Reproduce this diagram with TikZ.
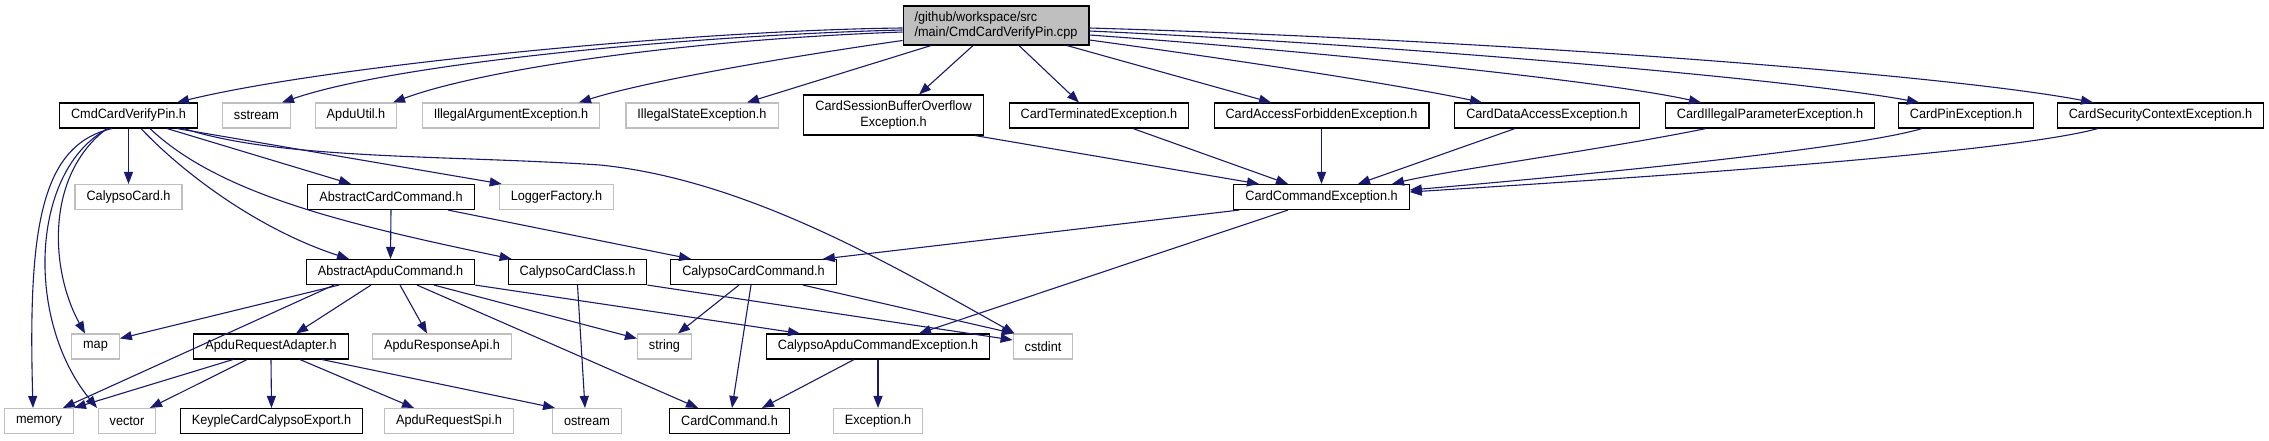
\documentclass[tikz,border=0pt]{standalone}
\usepackage{fontspec}
\setmainfont{Liberation Sans}[FakeStretch=0.94]
\usetikzlibrary{arrows.meta,calc}
\definecolor{navy}{HTML}{191970}
\definecolor{gborder}{HTML}{BFBFBF}
\definecolor{cppfill}{HTML}{BFBFBF}
\newcommand{\dxf}{\fontsize{13.5}{15.5}\selectfont}
\begin{document}
\begin{tikzpicture}[x=1pt,y=-1pt,
  nb/.style={rectangle, draw=black, line width=1.1pt, minimum height=25pt, inner xsep=11.5pt, inner ysep=0pt, font=\dxf, text=black},
  ng/.style={nb, draw=gborder},
  dep/.style={draw=navy, line width=1.1pt, -{Triangle[length=12pt,width=9pt]}}
]
\useasboundingbox[fill=white] (0,0) rectangle (2269,440);

% row 0
\node[nb, fill=cppfill, align=left, minimum height=39pt] (cpp) at (996,25.5) {/github/workspace/src\\/main/CmdCardVerifyPin.cpp};
% row 1
\node[nb] (cvph) at (128.5,115.5) {CmdCardVerifyPin.h};
\node[ng] (sstr) at (256.5,115.5) {sstream};
\node[ng] (autil) at (356,115.5) {ApduUtil.h};
\node[ng] (illarg) at (511,115.5) {IllegalArgumentException.h};
\node[ng] (illst) at (702,115.5) {IllegalStateException.h};
\node[nb, align=center, minimum height=40pt] (csbo) at (893.5,115) {CardSessionBufferOverflow\\Exception.h};
\node[nb] (cterm) at (1099,115.5) {CardTerminatedException.h};
\node[nb] (cacc) at (1321.5,115.5) {CardAccessForbiddenException.h};
\node[nb] (cdata) at (1547,115.5) {CardDataAccessException.h};
\node[nb] (cillp) at (1770,115.5) {CardIllegalParameterException.h};
\node[nb] (cpin) at (1966,115.5) {CardPinException.h};
\node[nb] (csec) at (2160.5,115.5) {CardSecurityContextException.h};
% row 2
\node[ng] (calcard) at (128.5,197) {CalypsoCard.h};
\node[nb] (acc) at (391,197) {AbstractCardCommand.h};
\node[ng] (logf) at (556.5,197) {LoggerFactory.h};
\node[nb] (cce) at (1321.5,197) {CardCommandException.h};
% row 3
\node[nb] (aac) at (390.5,272) {AbstractApduCommand.h};
\node[nb] (ccclass) at (577.5,272) {CalypsoCardClass.h};
\node[nb] (cccmd) at (753.5,272) {CalypsoCardCommand.h};
% row 4
\node[ng] (nmap) at (95.5,346.5) {map};
\node[nb] (ara) at (271,346.5) {ApduRequestAdapter.h};
\node[ng] (resp) at (442,346.5) {ApduResponseApi.h};
\node[ng] (nstr) at (664.5,346.5) {string};
\node[nb] (cace) at (878,346.5) {CalypsoApduCommandException.h};
\node[ng] (cstd) at (1043,346.5) {cstdint};
% row 5
\node[ng] (mem) at (39,421) {memory};
\node[ng] (vec) at (127,421) {vector};
\node[nb] (kcce) at (271.5,421) {KeypleCardCalypsoExport.h};
\node[ng] (arspi) at (449,421) {ApduRequestSpi.h};
\node[ng] (ostr) at (587,421) {ostream};
\node[nb] (ccmd) at (729.5,421) {CardCommand.h};
\node[ng] (exc) at (878,421) {Exception.h};

% cpp edges
\draw[dep] ($(cpp.west)+(0,2.5)$) .. controls (700,30) and (330,65) .. ($(cvph.north)+(48.5,0)$);
\draw[dep] ($(cpp.west)+(0,4.5)$) .. controls (700,35) and (400,62) .. ($(sstr.north)+(25.5,0)$);
\draw[dep] ($(cpp.west)+(0,6.5)$) .. controls (680,40) and (480,70) .. ($(autil.north)+(37,0)$);
\draw[dep] ($(cpp.west)+(0,15)$) .. controls (800,55) and (650,80) .. ($(illarg.north)+(68,0)$);
\draw[dep] ($(cpp.south)+(-65,0)$) -- ($(illst.north)+(45,0)$);
\draw[dep] ($(cpp.south)+(-23,0)$) -- ($(csbo.north)+(25.5,0)$);
\draw[dep] ($(cpp.south)+(23,0)$) -- ($(cterm.north)+(-20,0)$);
\draw[dep] ($(cpp.south)+(71,0)$) -- ($(cacc.north)+(-50.5,0)$);
\draw[dep] ($(cpp.east)+(0,14.5)$) .. controls (1250,62) and (1400,85) .. ($(cdata.north)+(-65,0)$);
\draw[dep] ($(cpp.east)+(0,9.5)$) .. controls (1300,50) and (1600,80) .. ($(cillp.north)+(-69,0)$);
\draw[dep] ($(cpp.east)+(0,5.5)$) .. controls (1400,45) and (1800,80) .. ($(cpin.north)+(-47,0)$);
\draw[dep] ($(cpp.east)+(0,2.5)$) .. controls (1500,40) and (1950,75) .. ($(csec.north)+(-67.5,0)$);

% row1 -> CardCommandException
\draw[dep] ($(csbo.south)+(81.5,0)$) -- ($(cce.north)+(-62.5,0)$);
\draw[dep] ($(cterm.south)+(34,0)$) -- ($(cce.north)+(-33.5,0)$);
\draw[dep] (cacc.south) -- (cce.north);
\draw[dep] ($(cdata.south)+(-32,0)$) -- ($(cce.north)+(36.5,0)$);
\draw[dep] ($(cillp.south)+(-64,0)$) .. controls (1600,150) and (1450,170) .. ($(cce.north)+(70.5,0)$);
\draw[dep] ($(cpin.south)+(-44,0)$) .. controls (1850,150) and (1550,178) .. ($(cce.east)+(0,-7)$);
\draw[dep] ($(csec.south)+(-62.5,0)$) .. controls (2000,155) and (1600,180) .. ($(cce.east)+(0,-5)$);

% CmdCardVerifyPin.h
\draw[dep] (cvph.south) -- (calcard.north);
\draw[dep] ($(cvph.south)+(38.5,0)$) -- ($(acc.north)+(-40,0)$);
\draw[dep] ($(cvph.south)+(48.5,0)$) -- ($(logf.north west)+(3,0)$);
\draw[dep] ($(cvph.south)+(55.5,0)$) .. controls (280,160) and (450,155) .. (600,165) .. controls (750,180) and (900,270) .. ($(cstd.north west)+(2,0)$);
\draw[dep] ($(cvph.south)+(12.5,0)$) .. controls (185,175) and (260,230) .. ($(aac.north)+(-41.5,0)$);
\draw[dep] ($(cvph.south)+(21.5,0)$) .. controls (220,195) and (350,225) .. ($(ccclass.north west)+(4,0)$);
\draw[dep] ($(cvph.south)+(-21.5,0)$) .. controls (45,175) and (50,270) .. ($(nmap.north)+(-10.5,0)$);
\draw[dep] ($(cvph.south)+(-16.5,0)$) .. controls (40,145) and (28,230) .. ($(mem.north)+(-6,0)$);
\draw[dep] ($(cvph.south)+(-20.5,0)$) .. controls (30,170) and (25,320) .. ($(vec.north)+(-30,0)$);

% AbstractCardCommand.h
\draw[dep] (acc.south) -- (aac.north);
\draw[dep] ($(acc.south)+(57,0)$) -- ($(cccmd.north)+(-62.5,0)$);

% CardCommandException.h
\draw[dep] ($(cce.south west)+(6,0)$) -- ($(cccmd.north east)+(-14,0)$);
\draw[dep] ($(cce.south)+(-33.5,0)$) -- ($(cace.north)+(41,0)$);

% AbstractApduCommand.h
\draw[dep] ($(aac.south)+(-51.5,0)$) -- ($(nmap.east)+(0,-8)$);
\draw[dep] ($(aac.south)+(-56.5,0)$) -- ($(mem.north)+(24,0)$);
\draw[dep] ($(aac.south)+(-19.5,0)$) -- ($(ara.north)+(25,0)$);
\draw[dep] ($(aac.south)+(9.5,0)$) -- ($(resp.north)+(-15,0)$);
\draw[dep] ($(aac.south)+(43.5,0)$) -- ($(nstr.west)+(0,-8)$);
\draw[dep] ($(aac.south)+(26.5,0)$) -- ($(ccmd.north)+(-31.5,0)$);
\draw[dep] (aac.south east) -- ($(cace.north)+(-78,0)$);

% CalypsoCardClass.h
\draw[dep] (ccclass.south) -- ($(ostr.north)+(-2,0)$);
\draw[dep] (ccclass.south east) -- ($(cstd.west)+(0,-6.5)$);

% CalypsoCardCommand.h
\draw[dep] ($(cccmd.south)+(-14.5,0)$) -- ($(nstr.north)+(13.5,0)$);
\draw[dep] ($(cccmd.south)+(-2.5,0)$) -- ($(ccmd.north)+(2.5,0)$);
\draw[dep] ($(cccmd.south)+(49.5,0)$) -- ($(cstd.north west)+(1,0)$);

% CalypsoApduCommandException.h
\draw[dep] ($(cace.south)+(-24,0)$) -- ($(ccmd.north)+(32.5,0)$);
\draw[dep] (cace.south) -- (exc.north);

% ApduRequestAdapter.h
\draw[dep] ($(ara.south)+(-38,0)$) -- ($(mem.north east)+(0,0)$);
\draw[dep] ($(ara.south)+(-24,0)$) -- ($(vec.north)+(23,0)$);
\draw[dep] (ara.south) -- (kcce.north);
\draw[dep] ($(ara.south)+(29,0)$) -- ($(arspi.north)+(-35,0)$);
\draw[dep] ($(ara.south)+(51,0)$) -- ($(ostr.north west)+(3,0)$);
\end{tikzpicture}
\end{document}
